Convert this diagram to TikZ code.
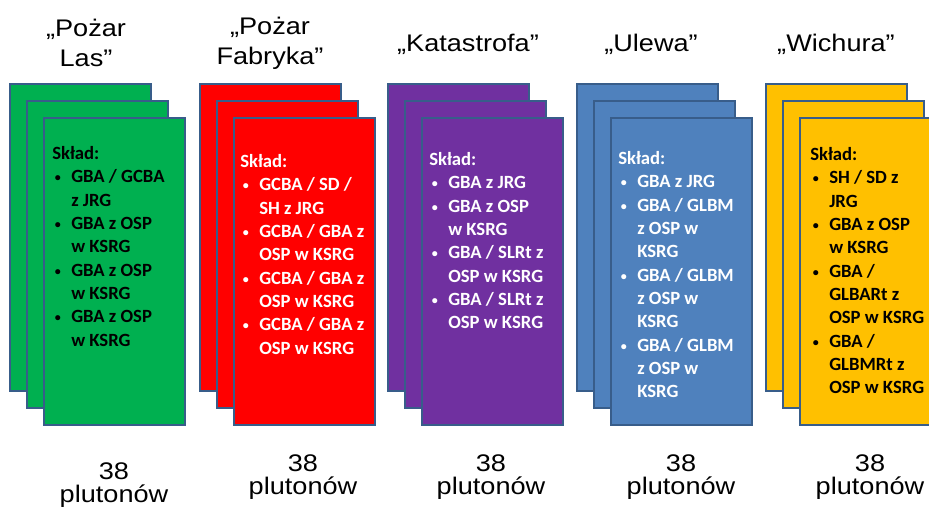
\documentclass[tikz,border=0pt]{standalone}
\usepackage{fontspec}
\setmainfont{Liberation Sans}
\newfontfamily\kartafont{Carlito}
\usetikzlibrary{positioning}

\definecolor{zielony}{HTML}{00B050}
\definecolor{czerwony}{HTML}{FF0000}
\definecolor{fiolet}{HTML}{7030A0}
\definecolor{niebieski}{HTML}{4F81BD}
\definecolor{zolty}{HTML}{FFC000}
\definecolor{ramka}{HTML}{385D8A}

\newcommand\pkt{\makebox[14.25pt][l]{\hspace{2pt}\raisebox{0.6pt}{\fontsize{9}{9}\selectfont\textbullet}}}
\newcommand\dalej{\hspace*{14.25pt}}

\begin{document}
\begin{tikzpicture}[x=0.75pt,y=-0.75pt,
    karta/.style={draw=ramka, line width=1.5pt, anchor=north west, outer sep=0pt,
      minimum width=106pt, minimum height=230.25pt},
    sklad/.style={anchor=north west, inner sep=0pt, align=left,
      font=\kartafont\bfseries\fontsize{14}{17.5}\selectfont},
    tytul/.style={align=center, xscale=1.13, transform shape,
      font=\fontsize{18}{22.5}\selectfont},
    liczba/.style={align=center, xscale=1.13, transform shape,
      font=\fontsize{18}{17.5}\selectfont}]
  \useasboundingbox (0,0) rectangle (929,513);
  % stosy kart
  \foreach \n/\x/\c in {las/10/zielony, fab/200/czerwony, kat/388/fiolet, ulw/577/niebieski, wch/766/zolty}
    \foreach \k in {0,1,2}
      \node[karta, fill=\c] (\n\k) at (\x+17*\k, 84+17*\k) {};

  % tytuly
  \node[tytul] (tlas) at (86,43)  {„Pożar\\Las”};
  \node[tytul] (tfab) at (270,43) {„Pożar\\Fabryka”};
  \node[tytul] (tkat) at (468,44) {„Katastrofa”};
  \node[tytul] (tulw) at (651,44) {„Ulewa”};
  \node[tytul] (twch) at (836,44) {„Wichura”};

  % sklad
  \node[sklad, text=black] (slas) at (52,146) {Skład:\\ \pkt GBA / GCBA\\ \dalej z JRG\\
    \pkt GBA z OSP\\ \dalej w KSRG\\ \pkt GBA z OSP\\ \dalej w KSRG\\ \pkt GBA z OSP\\ \dalej w KSRG};
  \node[sklad, text=white] (sfab) at (240,154) {Skład:\\ \pkt GCBA / SD /\\ \dalej SH z JRG\\
    \pkt GCBA / GBA z\\ \dalej OSP w KSRG\\ \pkt GCBA / GBA z\\ \dalej OSP w KSRG\\ \pkt GCBA / GBA z\\ \dalej OSP w KSRG};
  \node[sklad, text=white] (skat) at (429,152) {Skład:\\ \pkt GBA z JRG\\ \pkt GBA z OSP\\ \dalej w KSRG\\
    \pkt GBA / SLRt z\\ \dalej OSP w KSRG\\ \pkt GBA / SLRt z\\ \dalej OSP w KSRG};
  \node[sklad, text=white] (sulw) at (618,151) {Skład:\\ \pkt GBA z JRG\\ \pkt GBA / GLBM\\ \dalej z OSP w\\ \dalej KSRG\\
    \pkt GBA / GLBM\\ \dalej z OSP w\\ \dalej KSRG\\ \pkt GBA / GLBM\\ \dalej z OSP w\\ \dalej KSRG};
  \node[sklad, text=black] (swch) at (810,147) {Skład:\\ \pkt SH / SD z\\ \dalej JRG\\ \pkt GBA z OSP\\ \dalej w KSRG\\
    \pkt GBA /\\ \dalej GLBARt z\\ \dalej OSP w KSRG\\ \pkt GBA /\\ \dalej GLBMRt z\\ \dalej OSP w KSRG};

  % liczba plutonow
  \node[liczba] (plas) at (114,485) {38\\plutonów};
  \node[liczba] (pfab) at (303,477) {38\\plutonów};
  \node[liczba] (pkat) at (491,477) {38\\plutonów};
  \node[liczba] (pulw) at (681,477) {38\\plutonów};
  \node[liczba] (pwch) at (870,477) {38\\plutonów};
\end{tikzpicture}
\end{document}
